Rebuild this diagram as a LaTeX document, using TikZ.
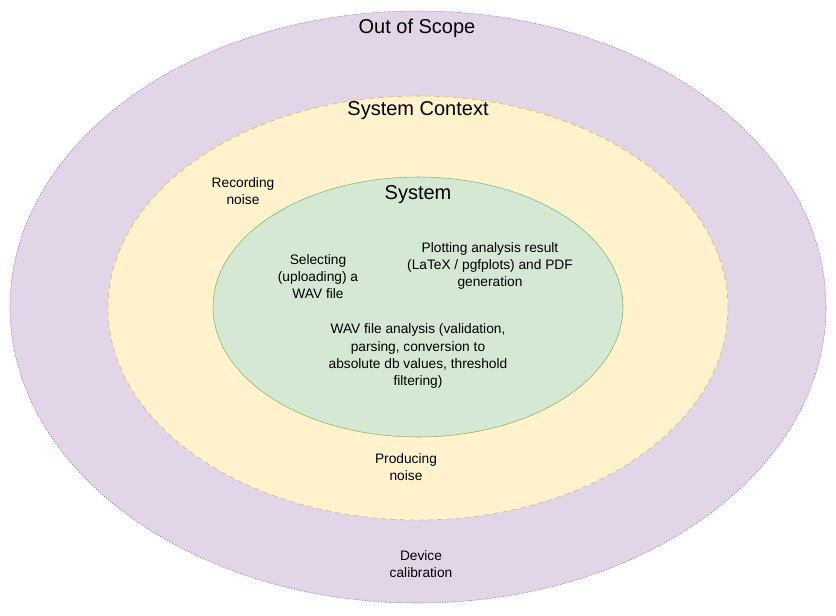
\documentclass[tikz,border=0pt]{standalone}
\usepackage{fontspec}
\setmainfont{Liberation Sans}
\usetikzlibrary{shapes.geometric}
\usetikzlibrary{positioning}
\definecolor{scopefill}{HTML}{E1D5E7}
\definecolor{scopeline}{HTML}{9673A6}
\definecolor{ctxfill}{HTML}{FFF2CC}
\definecolor{ctxline}{HTML}{D6B656}
\definecolor{sysfill}{HTML}{D5E8D4}
\definecolor{sysline}{HTML}{82B366}

\begin{document}
\begin{tikzpicture}[x=0.75pt, y=-0.75pt,
area/.style={ellipse, inner sep = 0pt},
title/.style={font=\fontsize{15}{18}\selectfont},
txt/.style={align=center, font=\fontsize{10.3}{12.8}\selectfont}]
\useasboundingbox (0,0) rectangle (836,615);
\node[area, draw=scopeline, fill=scopefill, dash pattern=on 1pt off 1pt, minimum width=612pt, minimum height=444pt] (scope) at (418,307){};
\node[area, draw=ctxline, fill=ctxfill, dash pattern=on 4pt off 3pt, minimum width=465pt, minimum height=318pt] (ctx) at (418,308){};
\node[area, draw=sysline, fill=sysfill, minimum width=307.5pt, minimum height=195pt] (sys) at (418,307){};
\node[title] (scopetitle) at (417,28){Out of Scope};
\node[title] (ctxtitle) at (418,111){System Context};
\node[title] (systitle) at (418,195){System};
\node[txt] (recording) at (243,191){Recording\\noise};
\node[txt] (selecting) at (318,277){Selecting\\(uploading) a\\WAV file};
\node[txt] (plotting) at (490,266){Plotting analysis result\\(LaTeX / pgfplots) and PDF\\generation};
\node[txt] (analysis) at (418,356){WAV file analysis (validation,\\parsing, conversion to\\absolute db values, threshold\\filtering)};
\node[txt] (producing) at (406,467){Producing\\noise};
\node[txt] (calibration) at (421,564){Device\\calibration};
\end{tikzpicture}
\end{document}
